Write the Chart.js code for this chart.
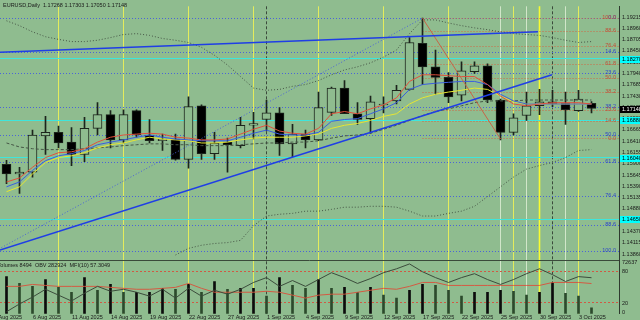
<!DOCTYPE html>
<html>
<head>
<meta charset="utf-8">
<script src="https://cdn.jsdelivr.net/npm/chart.js@4.4.1/dist/chart.umd.min.js"></script>
<style>
  html, body { margin: 0; padding: 0; background: #8fbc8f; overflow: hidden; }
  #wrap { width: 640px; height: 320px; position: relative; }
</style>
</head>
<body>
<div id="wrap"><canvas id="chart" width="640" height="320"></canvas></div>
<script>
// EURUSD daily, 4 Aug 2025 - 6 Oct 2025
const dates = ['4 Aug','5 Aug','6 Aug','7 Aug','8 Aug','11 Aug','12 Aug','13 Aug','14 Aug','15 Aug',
  '18 Aug','19 Aug','20 Aug','21 Aug','22 Aug','25 Aug','26 Aug','27 Aug','28 Aug','29 Aug',
  '1 Sep','2 Sep','3 Sep','4 Sep','5 Sep','8 Sep','9 Sep','10 Sep','11 Sep','12 Sep',
  '15 Sep','16 Sep','17 Sep','18 Sep','19 Sep','22 Sep','23 Sep','24 Sep','25 Sep','26 Sep',
  '29 Sep','30 Sep','1 Oct','2 Oct','3 Oct','6 Oct'];

const open = [1.1589,1.1567,1.1571,1.1653,1.1661,1.1639,1.1611,1.1670,1.1701,1.1644,
  1.1710,1.1655,1.1642,1.1646,1.1600,1.1721,1.1613,1.1639,1.1631,1.1677,
  1.1690,1.1705,1.1635,1.1657,1.1644,1.1706,1.1761,1.1703,1.1692,1.1723,
  1.1732,1.1758,1.1862,1.1809,1.1785,1.1745,1.1798,1.1811,1.1734,1.1661,
  1.1699,1.1721,1.1730,1.1727,1.1710,1.17268];
const high = [1.1598,1.1582,1.1666,1.1697,1.1675,1.1672,1.1695,1.1728,1.1710,1.1712,
  1.1712,1.1690,1.1657,1.1657,1.1741,1.1723,1.1661,1.1648,1.1695,1.1706,
  1.1734,1.1717,1.1679,1.1666,1.1752,1.1763,1.1778,1.1728,1.1743,1.1741,
  1.1767,1.1875,1.1919,1.1847,1.1796,1.1820,1.1820,1.1816,1.1736,1.1703,
  1.1752,1.1758,1.1756,1.1752,1.1756,1.17303];
const low = [1.1545,1.1523,1.1560,1.1611,1.1626,1.1586,1.1595,1.1655,1.1626,1.1637,
  1.1650,1.1637,1.1620,1.1598,1.1580,1.1600,1.1600,1.1571,1.1626,1.1646,
  1.1664,1.1609,1.1606,1.1626,1.1642,1.1699,1.1703,1.1679,1.1659,1.1705,
  1.1725,1.1756,1.1769,1.1747,1.1728,1.1732,1.1794,1.1728,1.1644,1.1655,
  1.1688,1.1701,1.1719,1.1679,1.1708,1.17050];
const close = [1.1567,1.1571,1.1655,1.1661,1.1637,1.1611,1.1670,1.1701,1.1644,1.1701,
  1.1655,1.1642,1.1646,1.1600,1.1719,1.1613,1.1637,1.1633,1.1677,1.1681,
  1.1705,1.1635,1.1657,1.1644,1.1717,1.1761,1.1703,1.1690,1.1730,1.1725,
  1.1756,1.1864,1.1809,1.1785,1.1741,1.1800,1.1811,1.1734,1.1661,1.1694,
  1.1721,1.1730,1.1725,1.1712,1.1736,1.17148];

// moving averages / bands
const maRed = [1.1549,1.1558,1.1582,1.1604,1.1615,1.1617,1.1624,1.1639,1.1650,1.1655,
  1.1657,1.1659,1.1657,1.1650,1.1648,1.1644,1.1644,1.1646,1.1657,1.1668,
  1.1677,1.1664,1.1659,1.1657,1.1670,1.1703,1.1708,1.1703,1.1714,1.1723,
  1.1739,1.1776,1.1791,1.1791,1.1789,1.1787,1.1787,1.1769,1.1743,1.1725,
  1.1721,1.1725,1.1728,1.1728,1.1728,1.1725];
const maBlue = [1.1538,1.1549,1.1575,1.1597,1.1608,1.1613,1.1620,1.1633,1.1639,1.1644,
  1.1650,1.1655,1.1650,1.1646,1.1644,1.1642,1.1642,1.1642,1.1650,1.1659,
  1.1666,1.1657,1.1655,1.1655,1.1661,1.1686,1.1690,1.1692,1.1703,1.1714,
  1.1728,1.1758,1.1769,1.1772,1.1774,1.1776,1.1776,1.1769,1.1747,1.1732,
  1.1725,1.1725,1.1725,1.1725,1.1725,1.1725];
const maYellow = [1.1527,1.1538,1.1567,1.1593,1.1604,1.1608,1.1615,1.1626,1.1633,1.1637,
  1.1644,1.1650,1.1646,1.1644,1.1642,1.1637,1.1637,1.1639,1.1644,1.1648,
  1.1650,1.1650,1.1650,1.1653,1.1657,1.1670,1.1677,1.1681,1.1688,1.1697,
  1.1703,1.1725,1.1739,1.1747,1.1752,1.1756,1.1761,1.1758,1.1743,1.1730,
  1.1725,1.1725,1.1725,1.1725,1.1725,1.1725];
const bbMid = [1.1637,1.1628,1.1624,1.1622,1.1622,1.1622,1.1624,1.1626,1.1628,1.1631,
  1.1633,1.1635,1.1635,1.1633,1.1633,1.1631,1.1631,1.1631,1.1633,1.1635,
  1.1637,1.1637,1.1639,1.1639,1.1642,1.1648,1.1653,1.1655,1.1659,1.1668,
  1.1677,1.1688,1.1699,1.1708,1.1714,1.1721,1.1728,1.1732,1.1732,1.1732,
  1.1734,1.1734,1.1734,1.1734,1.1734,1.1734];
const bbUpper = [1.1913,1.1902,1.1888,1.1877,1.1871,1.1866,1.1866,1.1869,1.1875,1.1882,
  1.1884,1.1880,1.1873,1.1869,1.1864,1.1853,1.1835,1.1813,1.1787,1.1761,
  1.1756,1.1758,1.1765,1.1769,1.1778,1.1791,1.1802,1.1809,1.1818,1.1831,
  1.1847,1.1884,1.1915,1.1915,1.1908,1.1902,1.1897,1.1893,1.1888,1.1884,
  1.1882,1.1880,1.1875,1.1869,1.1864,1.1866];
const bbLower = [null,null,null,null,null,null,null,null,null,null,
  null,null,null,1.1384,1.1399,1.1406,1.1410,1.1412,1.1417,1.1450,
  1.1472,1.1476,1.1478,1.1483,1.1483,1.1487,1.1492,1.1492,1.1494,1.1494,
  1.1492,1.1483,1.1472,1.1472,1.1478,1.1483,1.1494,1.1516,1.1538,1.1560,
  1.1578,1.1586,1.1593,1.1604,1.1620,1.1622];

// lower window
const volume = [53100,43300,39100,48900,37700,30700,51700,33500,41900,30700,
  30700,30700,36300,34900,41900,30700,46100,34900,36300,36300,
  25100,51700,40500,36300,48900,36300,37700,30700,37700,26500,
  22400,33500,41900,40500,33500,25100,30700,30700,33500,32100,
  26500,30700,44700,29300,25100,8494];
const obv = [34300,91300,141200,198300,155500,112700,169700,219600,184000,198300,
  176900,148300,198300,134100,205400,148300,191100,162600,198300,248200,
  283800,219600,262400,219600,269600,319500,283800,241000,276700,319500,
  348000,383600,326600,283800,248200,283800,312300,269600,233900,269600,
  312300,348000,305200,255300,290900,282924];
const mfi = [51.9,51.9,55.6,53.7,51.9,51.9,51.9,51.9,50.0,48.1,
  46.3,46.3,48.1,50.0,57.5,48.1,40.6,40.6,40.6,40.6,
  42.5,40.6,35.0,29.4,35.0,36.9,36.9,40.6,44.4,48.1,
  46.3,51.9,59.4,59.4,53.7,53.7,53.7,53.7,53.7,53.7,
  53.7,53.7,59.4,59.4,59.4,57.3049];
const volumeTop = 72637;
const mfiLevels = [80, 20];

// axis labels
const priceTicks = [1.19215,1.18960,1.18705,1.18450,1.18195,1.17940,1.17685,1.17430,1.17175,1.16920,
  1.16665,1.16410,1.16155,1.15900,1.15645,1.15390,1.15135,1.14880,1.14625,1.14370,1.14115,1.13860];
const dateTickIdx = [-1,2,5,8,11,14,17,20,23,26,29,32,35,38,41,44];
const dateTickLabels = ['1 Aug 2025','6 Aug 2025','11 Aug 2025','14 Aug 2025','19 Aug 2025','22 Aug 2025',
  '27 Aug 2025','1 Sep 2025','4 Sep 2025','9 Sep 2025','12 Sep 2025','17 Sep 2025','22 Sep 2025',
  '25 Sep 2025','30 Sep 2025','3 Oct 2025'];

// drawn objects
const fibLevels = [0, 14.6, 23.6, 38.2, 50, 61.8, 76.4, 88.6, 100];
const blueFib = { fromIdx: -1, lowIdx: -1, low: 1.1391, highIdx: 32, high: 1.1919 };
const redFib = { fromIdx: 32, highIdx: 32, high: 1.1919, lowIdx: 38, low: 1.1646 };
const supportLine = [{x: -0.5, y: 1.1395}, {x: 41.96, y: 1.1791}];
const upperLine = [{x: -0.5, y: 1.1842}, {x: 40.88, y: 1.1888}];
const cyanLevels = [1.1827, 1.1688, 1.1604, 1.1465];
const fridayIdx = [4, 9, 14, 19, 24, 29, 34, 39, 44];
const brightIdx = [41];
const monthIdx = [20, 42];
const paleIdx = [38, 40, 43];
const mainBottomPrice = 1.1377;

const BG = '#8fbc8f';
const FONT = '5.5px "Liberation Sans", Arial, sans-serif';
const idx = dates.map((d, i) => i);
const pts = arr => arr.map((v, i) => ({x: i, y: v}));

const overlay = {
  id: 'overlay',
  beforeDraw(chart) {
    const ctx = chart.ctx;
    ctx.save();
    ctx.fillStyle = BG;
    ctx.fillRect(0, 0, chart.width, chart.height);
    ctx.restore();
  },
  beforeDatasetsDraw(chart) {
    const {ctx, chartArea: a, scales} = chart;
    const xs = scales.x, ys = scales.y, ym = scales.yMfi;
    const xp = i => Math.floor(xs.getPixelForValue(i)) + 0.5;
    const yp = v => Math.floor(ys.getPixelForValue(v)) + 0.5;
    const vline = (list, color, width, dash) => {
      ctx.strokeStyle = color; ctx.lineWidth = width; ctx.setLineDash(dash);
      list.forEach(i => { ctx.beginPath(); ctx.moveTo(xp(i), a.top); ctx.lineTo(xp(i), a.bottom); ctx.stroke(); });
    };
    ctx.save();
    vline(paleIdx, 'rgba(225,240,215,0.8)', 1, []);
    vline(fridayIdx, '#e4ec5c', 1, []);
    vline(brightIdx, '#f8fc30', 1.6, []);
    vline(monthIdx, '#3b4a3b', 1, [3, 2]);

    // cyan horizontal lines
    ctx.setLineDash([]); ctx.strokeStyle = '#3ee6dc'; ctx.lineWidth = 1;
    cyanLevels.forEach(v => { ctx.beginPath(); ctx.moveTo(a.left, yp(v)); ctx.lineTo(a.right, yp(v)); ctx.stroke(); });

    // fibonacci levels
    ctx.setLineDash([1, 2]);
    ctx.strokeStyle = '#4a64d8';
    fibLevels.forEach(l => {
      const v = blueFib.high - (blueFib.high - blueFib.low) * l / 100;
      ctx.beginPath(); ctx.moveTo(Math.max(a.left, xp(blueFib.fromIdx)), yp(v)); ctx.lineTo(a.right, yp(v)); ctx.stroke();
    });
    ctx.strokeStyle = '#cc6a44';
    fibLevels.forEach(l => {
      const v = redFib.low + (redFib.high - redFib.low) * l / 100;
      ctx.beginPath(); ctx.moveTo(xp(redFib.fromIdx), yp(v)); ctx.lineTo(a.right, yp(v)); ctx.stroke();
    });

    // MFI levels in the lower window
    ctx.strokeStyle = '#cf5a44'; ctx.setLineDash([2, 2]);
    mfiLevels.forEach(l => {
      const y = Math.floor(ym.getPixelForValue(l)) + 0.5;
      ctx.beginPath(); ctx.moveTo(a.left, y); ctx.lineTo(a.right, y); ctx.stroke();
    });

    // window separator
    ctx.setLineDash([]); ctx.strokeStyle = '#3a4a3a'; ctx.lineWidth = 1;
    const sep = yp(mainBottomPrice) + 2;
    ctx.beginPath(); ctx.moveTo(a.left, sep); ctx.lineTo(a.right, sep); ctx.stroke();
    ctx.restore();
  },
  afterDraw(chart) {
    const {ctx, chartArea: a, scales} = chart;
    const xs = scales.x, ys = scales.y, ym = scales.yMfi, yv = scales.yVol;
    const yp = v => ys.getPixelForValue(v);
    ctx.save();
    ctx.font = FONT;
    ctx.textBaseline = 'middle';

    // fib labels
    ctx.textAlign = 'right';
    fibLevels.forEach(l => {
      const v = blueFib.high - (blueFib.high - blueFib.low) * l / 100;
      ctx.fillStyle = '#2f47c8';
      ctx.fillText(l.toFixed(1), 616, yp(v) - 1);
    });
    fibLevels.forEach(l => {
      const v = redFib.low + (redFib.high - redFib.low) * l / 100;
      ctx.fillStyle = '#c0503a';
      ctx.fillText(l.toFixed(1), 616, yp(v) - 1);
    });

    // price boxes on the axis
    ctx.textAlign = 'left';
    cyanLevels.forEach(v => {
      const y = Math.round(yp(v));
      ctx.fillStyle = '#00ffff'; ctx.fillRect(a.right + 1, y - 3, 22, 7);
      ctx.fillStyle = '#000'; ctx.fillText(v.toFixed(5), a.right + 3, y);
    });
    const last = close[close.length - 1];
    const yl = Math.round(yp(last));
    ctx.fillStyle = '#000'; ctx.fillRect(a.right + 1, yl - 3, 22, 7);
    ctx.fillStyle = '#fff'; ctx.fillText(last.toFixed(5), a.right + 3, yl);

    // lower window scale labels
    ctx.fillStyle = '#1a1a1a';
    ctx.fillText(String(volumeTop), a.right + 3, yv.getPixelForValue(volumeTop));
    ctx.fillText('80', a.right + 3, ym.getPixelForValue(80));
    ctx.fillText('20', a.right + 3, ym.getPixelForValue(20));
    ctx.fillText('0', a.right + 3, ym.getPixelForValue(0) - 1);

    // titles
    const n = close.length - 1;
    ctx.fillText('EURUSD,Daily  ' + [open[n], high[n], low[n], close[n]].map(v => v.toFixed(5)).join(' '), 3, 5);
    ctx.fillText('Volumes ' + volume[n] + '  OBV ' + obv[n] + '  MFI(10) ' + mfi[n].toFixed(4), -3, 265);

    // date labels
    dateTickIdx.forEach((i, k) => {
      ctx.fillText(dateTickLabels[k], Math.floor(xs.getPixelForValue(i)) + 1, 317.5);
    });
    ctx.restore();
  }
};

const candleColor = idx.map(i => close[i] < open[i] ? '#000000' : BG);
const volColor = idx.map(i => (i === 0 || volume[i] >= volume[i - 1]) ? '#0c0c0c' : '#2c4a2c');

new Chart(document.getElementById('chart'), {
  type: 'bar',
  data: {
    datasets: [
      { label: 'volume', data: pts(volume), yAxisID: 'yVol', backgroundColor: volColor,
        barThickness: 2, grouped: false, order: 9 },
      { label: 'wick', data: idx.map(i => ({x: i, y: [low[i], high[i]]})), yAxisID: 'y',
        backgroundColor: '#1c241c', barThickness: 1, grouped: false, order: 8 },
      { label: 'body', data: idx.map(i => ({x: i, y: [open[i], close[i]]})), yAxisID: 'y',
        backgroundColor: candleColor, borderColor: '#1c241c', borderWidth: 1, borderSkipped: false,
        barThickness: 9, grouped: false, order: 7 },
      { type: 'line', label: 'bbMid', data: pts(bbMid), yAxisID: 'y', borderColor: '#465646',
        borderWidth: 1, borderDash: [3, 2], pointRadius: 0, order: 6 },
      { type: 'line', label: 'bbUpper', data: pts(bbUpper), yAxisID: 'y', borderColor: '#465646',
        borderWidth: 1, borderDash: [1, 2], pointRadius: 0, order: 6 },
      { type: 'line', label: 'bbLower', data: pts(bbLower), yAxisID: 'y', borderColor: '#465646',
        borderWidth: 1, borderDash: [1, 2], pointRadius: 0, order: 6 },
      { type: 'line', label: 'maYellow', data: pts(maYellow), yAxisID: 'y', borderColor: '#e6e632',
        borderWidth: 1, pointRadius: 0, order: 5 },
      { type: 'line', label: 'maBlue', data: pts(maBlue), yAxisID: 'y', borderColor: '#3a5ee0',
        borderWidth: 1, pointRadius: 0, order: 4 },
      { type: 'line', label: 'maRed', data: pts(maRed), yAxisID: 'y', borderColor: '#e2503c',
        borderWidth: 1, pointRadius: 0, order: 3 },
      { type: 'line', label: 'blueFibDiag', yAxisID: 'y', borderColor: '#4a64d8', borderWidth: 1,
        borderDash: [1, 2], pointRadius: 0, order: 2,
        data: [{x: blueFib.lowIdx, y: blueFib.low}, {x: blueFib.highIdx, y: blueFib.high}] },
      { type: 'line', label: 'redFibDiag', yAxisID: 'y', borderColor: '#c86446', borderWidth: 1,
        pointRadius: 0, order: 2,
        data: [{x: redFib.highIdx, y: redFib.high}, {x: redFib.lowIdx, y: redFib.low}] },
      { type: 'line', label: 'support', data: supportLine, yAxisID: 'y', borderColor: '#1f3ee6',
        borderWidth: 1.5, pointRadius: 0, order: 1 },
      { type: 'line', label: 'upper', data: upperLine, yAxisID: 'y', borderColor: '#1f3ee6',
        borderWidth: 1.5, pointRadius: 0, order: 1 },
      { type: 'line', label: 'obv', data: pts(obv), yAxisID: 'yObv', borderColor: '#3c4c3c',
        borderWidth: 1, pointRadius: 0, order: 1 },
      { type: 'line', label: 'mfi', data: pts(mfi), yAxisID: 'yMfi', borderColor: '#d45a42',
        borderWidth: 1, pointRadius: 0, order: 1 }
    ]
  },
  options: {
    responsive: false,
    animation: false,
    events: [],
    layout: { padding: { left: 0, right: 0, top: 0, bottom: 5 } },
    plugins: { legend: { display: false }, tooltip: { enabled: false } },
    scales: {
      x: { type: 'linear', min: -0.5, max: 47.115, offset: false, display: false },
      y: {
        position: 'right', min: 1.12514, max: 1.19457,
        afterBuildTicks: s => { s.ticks = priceTicks.map(v => ({value: v})); },
        afterFit: s => { s.width = 21; },
        grid: { display: false, drawTicks: false },
        border: { display: true, color: '#2e3a2e' },
        ticks: { autoSkip: false, padding: 3, color: '#1a1a1a',
          font: { size: 5.5, family: '"Liberation Sans", Arial, sans-serif' },
          callback: v => v.toFixed(5) }
      },
      yVol: { display: false, min: 0, max: 440000 },
      yMfi: { display: false, min: -0.56, max: 589.3 },
      yObv: { display: false, min: 20000, max: 2265950 }
    }
  },
  plugins: [overlay]
});
</script>
</body>
</html>
